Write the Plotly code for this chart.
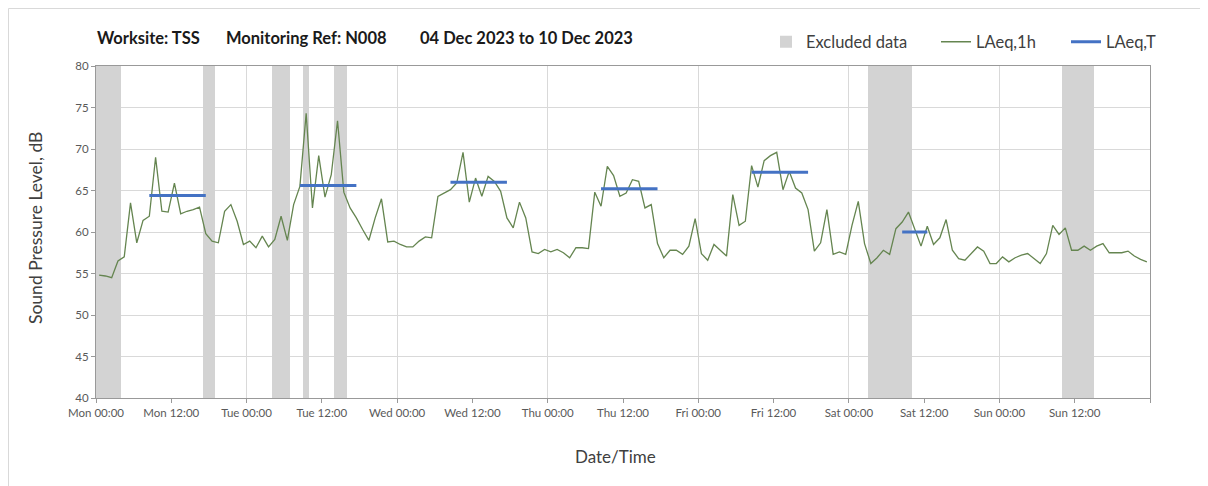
import pandas as pd
import plotly.graph_objects as go

# ---------------- data ----------------
series_start = "2023-12-04 00:30"
laeq_1h = [
    54.8, 54.7, 54.5, 56.5, 57.0, 63.5, 58.7, 61.4, 61.9, 69.0, 62.5, 62.4,
    65.9, 62.2, 62.5, 62.7, 63.0, 59.8, 58.9, 58.7, 62.5, 63.3, 61.3, 58.5,
    58.9, 58.1, 59.5, 58.2, 59.1, 61.9, 59.0, 63.3, 65.5, 74.3, 62.9, 69.2,
    64.2, 66.9, 73.4, 64.8, 62.9, 61.7, 60.3, 59.0, 61.7, 64.0, 58.8, 58.9,
    58.5, 58.2, 58.2, 58.9, 59.4, 59.3, 64.3, 64.7, 65.1, 65.9, 69.6, 63.6,
    66.5, 64.3, 66.7, 66.1, 64.9, 61.7, 60.5, 63.6, 61.7, 57.6, 57.4, 57.9,
    57.6, 57.9, 57.5, 56.9, 58.1, 58.1, 58.0, 64.8, 63.1, 67.9, 66.8, 64.3,
    64.7, 66.3, 66.1, 62.9, 63.3, 58.6, 56.9, 57.8, 57.8, 57.3, 58.3, 61.6,
    57.4, 56.6, 58.5, 57.8, 57.1, 64.5, 60.8, 61.3, 68.0, 65.4, 68.6, 69.2,
    69.6, 65.1, 67.3, 65.3, 64.7, 62.7, 57.7, 58.7, 62.7, 57.3, 57.6, 57.3,
    60.8, 63.7, 58.6, 56.2, 56.9, 57.8, 57.3, 60.4, 61.2, 62.4, 60.3, 58.3,
    60.7, 58.5, 59.3, 61.5, 57.8, 56.8, 56.6, 57.4, 58.2, 57.7, 56.2, 56.2,
    57.0, 56.4, 56.9, 57.2, 57.4, 56.8, 56.2, 57.4, 60.8, 59.7, 60.5, 57.8,
    57.8, 58.3, 57.8, 58.3, 58.6, 57.5, 57.5, 57.5, 57.7, 57.1, 56.7, 56.4,
]

laeqT_start = ["2023-12-04 08:30", "2023-12-05 08:30", "2023-12-06 08:30",
               "2023-12-07 08:30", "2023-12-08 08:30", "2023-12-09 08:30"]
laeqT_end = ["2023-12-04 17:30", "2023-12-05 17:30", "2023-12-06 17:30",
             "2023-12-07 17:30", "2023-12-08 17:30", "2023-12-09 12:30"]
laeqT_vals = [64.4, 65.6, 66.0, 65.2, 67.2, 60.0]

excl_start = ["2023-12-04 00:00", "2023-12-04 17:00", "2023-12-05 04:00",
              "2023-12-05 09:00", "2023-12-05 14:00", "2023-12-09 03:00",
              "2023-12-10 10:00"]
excl_end = ["2023-12-04 04:00", "2023-12-04 19:00", "2023-12-05 07:00",
            "2023-12-05 10:00", "2023-12-05 16:00", "2023-12-09 10:00",
            "2023-12-10 15:00"]

tick_labels = ["Mon 00:00", "Mon 12:00", "Tue 00:00", "Tue 12:00", "Wed 00:00",
               "Wed 12:00", "Thu 00:00", "Thu 12:00", "Fri 00:00", "Fri 12:00",
               "Sat 00:00", "Sat 12:00", "Sun 00:00", "Sun 12:00", ""]

x_range = ["2023-12-04 00:00", "2023-12-11 00:00"]
y_range = [40, 80]

# ---------------- build ----------------
times = pd.date_range(series_start, periods=len(laeq_1h), freq="h")
tickvals = pd.date_range(x_range[0], periods=len(tick_labels), freq="12h")

es = pd.to_datetime(excl_start)
ee = pd.to_datetime(excl_end)
widths_ms = [(b - a).total_seconds() * 1000 for a, b in zip(es, ee)]
mids = [a + (b - a) / 2 for a, b in zip(es, ee)]

tx, ty = [], []
for s, e, v in zip(laeqT_start, laeqT_end, laeqT_vals):
    tx += [s, e, None]
    ty += [v, v, None]

FONT = "Lato, Carlito, Calibri, sans-serif"
TXT = "#404040"

# page body has an 8px margin: figure is 1200x478 so the plot area
# lands at window px x 96..1150, y 66..398
W, H = 1200, 478
ML, MR, MT, MB = 88, 58, 58, 88
PL, PT = 8 + ML, 8 + MT
PW, PH = W - ML - MR, H - MT - MB


def px2x(px):
    return (px - PL) / PW


def py2y(py):
    return (PT + PH - py) / PH


fig = go.Figure()
fig.add_trace(go.Bar(
    x=mids, y=[y_range[1] - y_range[0]] * len(mids), base=y_range[0],
    width=widths_ms, marker=dict(color="#d3d3d3", line=dict(width=0)),
    name="Excluded data", hoverinfo="skip", legend="legend",
))
fig.add_trace(go.Scatter(
    x=times, y=laeq_1h, mode="lines", name="LAeq,1h", legend="legend2",
    line=dict(color="#658550", width=1.3),
))
fig.add_trace(go.Scatter(
    x=tx, y=ty, mode="lines", name="LAeq,T", xaxis="x2", legend="legend3",
    line=dict(color="#4472c4", width=3), connectgaps=False,
))

leg_common = dict(orientation="h", xanchor="left", yanchor="middle", y=py2y(42),
                  font=dict(size=16.5, color=TXT), bgcolor="rgba(0,0,0,0)",
                  borderwidth=0)

fig.update_layout(
    width=W, height=H,
    margin=dict(l=ML, r=MR, t=MT, b=MB),
    paper_bgcolor="white", plot_bgcolor="white",
    font=dict(family=FONT, color=TXT),
    bargap=0,
    showlegend=True,
    legend=dict(x=px2x(766), **leg_common),
    legend2=dict(x=px2x(936), **leg_common),
    legend3=dict(x=px2x(1066), **leg_common),
    xaxis=dict(
        type="date", range=x_range, tickvals=tickvals, ticktext=tick_labels,
        showgrid=False, ticks="outside", ticklen=4, tickcolor="#999999",
        showline=True, linecolor="#999999", linewidth=1, mirror=True,
        tickfont=dict(size=11.5, color="#595959"),
        zeroline=False,
    ),
    xaxis2=dict(
        type="date", range=x_range, overlaying="x", anchor="y", matches="x",
        dtick=86400000, tick0=x_range[0], showgrid=True, gridcolor="#d9d9d9",
        gridwidth=1, showticklabels=False, ticks="", showline=False, zeroline=False,
    ),
    yaxis=dict(
        range=y_range, dtick=5, showgrid=True, gridcolor="#d9d9d9", gridwidth=1,
        ticks="outside", ticklen=4, tickcolor="#999999",
        showline=True, linecolor="#999999", linewidth=1, mirror=True,
        tickfont=dict(size=11.5, color="#595959"),
        zeroline=False,
    ),
)

# axis titles
fig.add_annotation(text="Date/Time", x=px2x(615), y=py2y(456), xref="paper", yref="paper",
                   xanchor="center", yanchor="middle", showarrow=False,
                   font=dict(size=17, color=TXT, family=FONT))
fig.add_annotation(text="Sound Pressure Level, dB", x=px2x(35), y=py2y(228),
                   xref="paper", yref="paper", xanchor="center", yanchor="middle",
                   textangle=-90, showarrow=False,
                   font=dict(size=17.5, color=TXT, family=FONT))

# title pieces
for text, px in [("Worksite: TSS", 95), ("Monitoring Ref: N008", 224),
                 ("04 Dec 2023 to 10 Dec 2023", 418)]:
    fig.add_annotation(text=f"<b>{text}</b>", x=px2x(px), y=py2y(38),
                       xref="paper", yref="paper", xanchor="left", yanchor="middle",
                       showarrow=False, font=dict(size=16.5, color="#1a1a1a", family=FONT))

# outer chart frame
fig.add_shape(type="rect", xref="paper", yref="paper",
              x0=px2x(8.5), x1=px2x(1230), y0=py2y(520), y1=py2y(8.5),
              line=dict(color="#d9d9d9", width=1), fillcolor="rgba(0,0,0,0)", layer="below")

fig.write_html("out.html")
